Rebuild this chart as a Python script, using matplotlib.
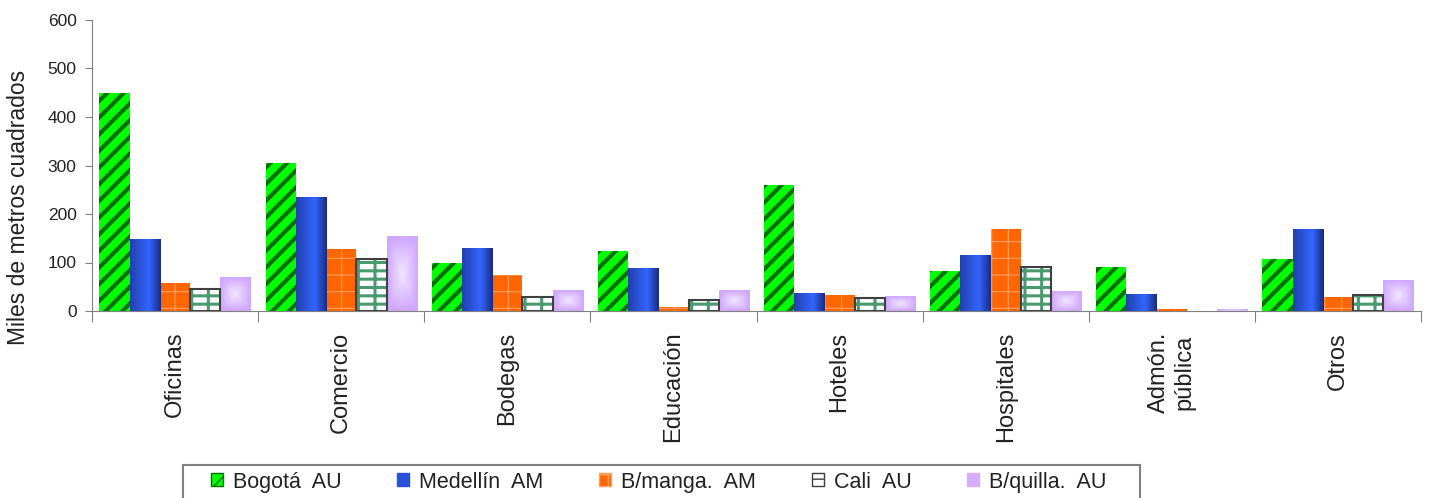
import numpy as np
import matplotlib
matplotlib.use("Agg")
from matplotlib import pyplot as plt
from matplotlib.patches import Patch, Rectangle

plt.rcParams['font.family'] = ['Liberation Sans', 'DejaVu Sans']
plt.rcParams['text.color'] = '#222222'
plt.rcParams['xtick.labelcolor'] = '#222222'
plt.rcParams['ytick.labelcolor'] = '#222222'

categories = ["Oficinas", "Comercio", "Bodegas", "Educación", "Hoteles",
              "Hospitales", "Admón.\npública", "Otros"]
series_names = ["Bogotá  AU", "Medellín  AM", "B/manga.  AM", "Cali  AU", "B/quilla.  AU"]

bogota = [450, 305, 99, 124, 260, 82, 91, 107]
medellin = [148, 235, 128, 87, 37, 115, 33, 169]
bmanga = [58, 128, 74, 8, 33, 169, 4, 29]
cali = [45, 107, 29, 23, 27, 91, 0, 33]
bquilla = [70, 153, 43, 43, 29, 41, 3, 62]
values = [bogota, medellin, bmanga, cali, bquilla]

# face, hatch, hatch color, border color, hatch width, gradient
styles = [
    ("#00ff00", "//", "#007000", "none", 3.0, None),
    ("#2a52dc", "", "#2a52dc", "none", 0.5, "hbar"),
    ("#ff6600", "+", "#ff9f5f", "none", 0.8, None),
    ("#ffffff", "--|", "#4a9a70", "#404040", 2.2, None),
    ("#d6acff", "", "#d6acff", "none", 0.5, "radial"),
]

# gradient images
t = np.linspace(0, 1, 60)
dark_l = np.array([0.13, 0.25, 0.68])
bright = np.array([0.20, 0.40, 1.00])
dark_r = np.array([0.10, 0.17, 0.50])
hgrad = np.zeros((1, 60, 3))
for i, v in enumerate(t):
    if v < 0.62:
        f = v / 0.62
        hgrad[0, i] = dark_l + (bright - dark_l) * f
    else:
        f = (v - 0.62) / 0.38
        hgrad[0, i] = bright + (dark_r - bright) * f
yy, xx = np.mgrid[-1:1:40j, -1:1:40j]
r = np.clip(np.maximum(np.abs(xx), np.abs(yy)) * 0.6 + np.hypot(xx, yy) * 0.4, 0, 1)
center = np.array([0.95, 0.90, 1.0])
edge = np.array([0.82, 0.66, 1.0])
rgrad = center + (edge - center) * r[..., None]

fig = plt.figure(figsize=(14.29, 4.98), dpi=100)
ax = fig.add_axes([92/1429, 1-311/498, (1421-92)/1429, (311-20)/498])

x = np.arange(len(categories))
w = 0.182
offsets = (np.arange(5) - 2) * w

for vals, off, (fc, hatch, hc, ec, hw, grad) in zip(values, offsets, styles):
    with plt.rc_context({'hatch.linewidth': hw}):
        bars = ax.bar(x + off, vals, w, color=fc, hatch=hatch, edgecolor=hc, linewidth=0, zorder=2)
        for b in bars:
            if hasattr(b, "set_hatch_linewidth"):
                b.set_hatch_linewidth(hw)
    if grad is not None:
        img = hgrad if grad == "hbar" else rgrad
        for b in bars:
            if b.get_height() <= 0:
                continue
            x0 = b.get_x()
            ax.imshow(img, extent=(x0, x0 + b.get_width(), 0, b.get_height()),
                      aspect='auto', interpolation='bilinear', zorder=2.5)
    if ec != "none":
        outline = ax.bar(x + off, vals, w, fill=False, edgecolor=ec, linewidth=1.5, zorder=3)
        for b in outline:
            if b.get_height() <= 0:
                b.set_visible(False)

ax.set_xlim(-0.5, len(categories) - 0.5)
ax.set_ylim(0, 600)
ax.set_aspect('auto')
ax.set_yticks(range(0, 601, 100))
ax.tick_params(axis='y', direction='out', length=5, color='#808080', labelsize=12.5, pad=6)

ax.set_xticks(np.arange(len(categories) + 1) - 0.5)
ax.set_xticklabels([])
ax.tick_params(axis='x', which='major', direction='out', length=8, color='#808080')
ax.set_xticks(x, minor=True)
ax.set_xticklabels(categories, minor=True, rotation=90, fontsize=17, va='top', ha='center')
ax.tick_params(axis='x', which='minor', length=0, pad=15)

for s in ['top', 'right']:
    ax.spines[s].set_visible(False)
ax.spines['left'].set_color('#808080')
ax.spines['bottom'].set_color('#808080')
ax.spines['bottom'].set_zorder(4)

fig.text(19/1429, 1-207/498, "Miles de metros cuadrados", rotation=90,
         fontsize=16.5, ha='center', va='center')

# legend: frame drawn by hand, entries placed inside
fig.add_artist(Rectangle((183/1429, -0.05), (1140-183)/1429, 0.05 + 1 - 465/498,
                         transform=fig.transFigure, fill=False,
                         edgecolor='#808080', linewidth=1.5))
handles = []
for fc, hatch, hc, ec, hw, grad in styles:
    handles.append(Patch(facecolor=fc, hatch=hatch, edgecolor=hc if ec == "none" else ec, linewidth=1))
leg = fig.legend(handles, series_names, loc='center left', ncol=5,
                 bbox_to_anchor=(211/1429, 1-482/498), fontsize=15.5,
                 frameon=False, borderpad=0, borderaxespad=0,
                 handlelength=0.56, handleheight=0.56, handletextpad=0.45,
                 columnspacing=2.6)

fig.savefig("out.png", dpi=100)
